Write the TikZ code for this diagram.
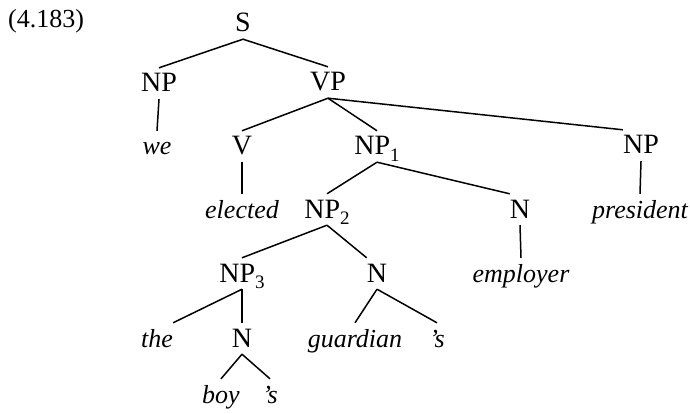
\documentclass[tikz,border=0pt]{standalone}
\usepackage{fontspec}
\setmainfont{Liberation Serif}
\newcommand\lowsub[1]{\raisebox{-6pt}{\fontsize{19}{19}\selectfont #1}}
\begin{document}
\begin{tikzpicture}[x=1pt,y=-1pt,
  lab/.style={anchor=base, text height=17pt, text depth=0pt, inner xsep=0pt, inner ysep=7pt, font=\fontsize{28}{32}\selectfont},
  lex/.style={lab, font=\fontsize{26}{30}\selectfont\itshape},
  br/.style={line width=1.5pt}]
\useasboundingbox (0,0) rectangle (690,414);
\node[lab, font=\fontsize{26}{30}\selectfont] (ex) at (46,28) {(4.183)};
% row 1
\node[lab] (S) at (243,32) {S};
% row 2
\node[lab] (NPa) at (159,92) {NP};
\node[lab] (VP) at (328,91) {VP};
% row 3
\node[lex] (we) at (157,155) {we};
\node[lab] (V) at (242,155) {V};
\node[lab] (NP1) at (377,155) {NP\lowsub{1}};
\node[lab] (NPr) at (641,154) {NP};
% row 4
\node[lex] (elected) at (242,218) {elected};
\node[lab] (NP2) at (327,218) {NP\lowsub{2}};
\node[lab] (N1) at (520,218) {N};
\node[lex] (pres) at (640,218) {president};
% row 5
\node[lab] (NP3) at (242,282) {NP\lowsub{3}};
\node[lab] (N2) at (377,282) {N};
\node[lex] (employer) at (521,282) {employer};
% row 6
\node[lex] (the) at (157,347) {the};
\node[lab] (N3) at (242,347) {N};
\node[lex] (guardian) at (355,347) {guardian};
\node[lex] (s1) at (437,347) {’s};
% row 7
\node[lex] (boy) at (221,403) {boy};
\node[lex] (s2) at (270,403) {’s};
% branches
\draw[br] (S.south) -- (NPa.north);
\draw[br] (S.south) -- (VP.north);
\draw[br] (NPa.south) -- (we.north);
\draw[br] (VP.south) -- (V.north);
\draw[br] (VP.south) -- (NP1.north);
\draw[br] (VP.south) -- (NPr.north west);
\draw[br] (V.south) -- (elected.north);
\draw[br] (NP1.south) -- (NP2.north);
\draw[br] (NP1.south) -- (N1.north west);
\draw[br] (NPr.south) -- (pres.north);
\draw[br] (N1.south) -- (employer.north);
\draw[br] (NP2.south) -- (NP3.north);
\draw[br] (NP2.south) -- (N2.north west);
\draw[br] (NP3.south) -- (the.north east);
\draw[br] (NP3.south) -- (N3.north);
\draw[br] (N2.south) -- (guardian.north);
\draw[br] (N2.south) -- (s1.north);
\draw[br] (N3.south) -- (boy.north);
\draw[br] (N3.south) -- (s2.north);
\end{tikzpicture}
\end{document}
